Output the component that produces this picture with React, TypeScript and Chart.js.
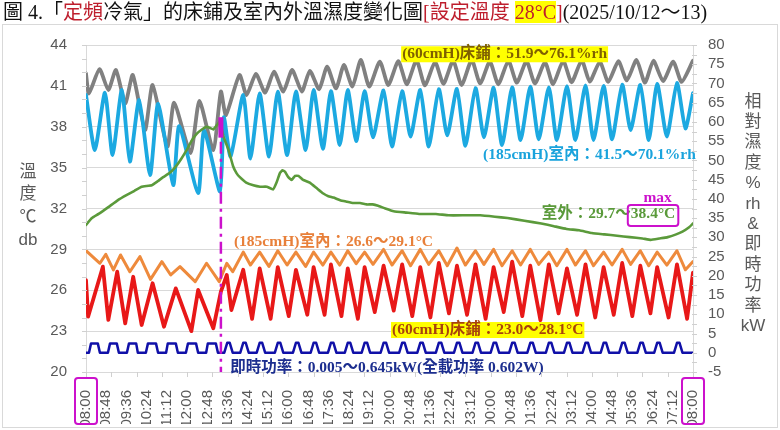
import { useEffect, useRef } from 'react';
import { Chart, registerables } from 'chart.js';

Chart.register(...registerables);

// ---------- tick labels (every 48 minutes from 08:00) ----------
const timeLabels = [
  '08:00', '08:48', '09:36', '10:24', '11:12', '12:00', '12:48', '13:36', '14:24', '15:12',
  '16:00', '16:48', '17:36', '18:24', '19:12', '20:00', '20:48', '21:36', '22:24', '23:12',
  '00:00', '00:48', '01:36', '02:24', '03:12', '04:00', '04:48', '05:36', '06:24', '07:12', '08:00',
];

// ---------- series: [minutes since 08:00, value] ----------
// (60cmH) bed relative humidity, %rh (right axis)
const bedRH: [number, number][] = [
  [0, 72.6], [7, 67.4], [32, 73.7], [53, 68.3], [71, 73.5], [93, 64.8], [111, 72.2], [140, 57.9],
  [158, 69.6], [193, 53.6], [209, 65.0], [248, 51.9], [269, 65.5], [302, 52.7], [320, 67.9], [332, 61.8],
  [364, 72.2], [381, 67.0], [403, 72.5], [425, 67.6], [446, 73.1], [468, 67.9], [489, 73.5], [512, 67.9],
  [531, 73.3], [553, 68.5], [572, 74.4], [593, 68.7], [612, 74.8], [632, 69.2], [652, 76.1], [672, 69.2],
  [697, 75.7], [717, 69.6], [741, 75.8], [761, 69.8], [784, 76.0], [804, 69.5], [828, 75.6], [848, 69.9],
  [871, 75.9], [891, 69.6], [915, 76.1], [935, 70.0], [958, 75.7], [978, 69.8], [1002, 75.9], [1022, 70.2],
  [1045, 75.8], [1065, 70.0], [1089, 75.5], [1108, 69.8], [1132, 75.9], [1152, 70.3], [1176, 76.0], [1195, 70.5],
  [1219, 75.6], [1239, 70.4], [1263, 75.8], [1283, 70.8], [1306, 76.1], [1326, 70.2], [1346, 75.9], [1369, 70.6],
  [1393, 75.7], [1413, 70.4], [1440, 75.9],
];

// (185cmH) indoor relative humidity, %rh (right axis)
const roomRH: [number, number][] = [
  [0, 67.0], [21, 52.7], [45, 67.6], [63, 51.4], [85, 68.3], [104, 49.7], [126, 65.7], [152, 46.2],
  [171, 64.7], [207, 43.6], [221, 58.9], [266, 41.5], [280, 57.9], [318, 41.9], [327, 61.2], [343, 51.0],
  [373, 67.0], [390, 50.5], [412, 67.4], [434, 51.0], [455, 67.9], [477, 51.4], [498, 67.9], [521, 52.7],
  [540, 68.3], [562, 53.0], [581, 68.0], [602, 54.0], [621, 68.3], [641, 55.0], [661, 68.0], [681, 56.0],
  [706, 68.2], [726, 53.6], [750, 68.0], [770, 56.2], [793, 68.3], [813, 53.6], [837, 68.5], [857, 56.5],
  [880, 68.6], [900, 53.8], [924, 68.8], [944, 56.0], [967, 68.9], [987, 54.0], [1011, 69.0], [1031, 55.3],
  [1054, 69.2], [1074, 55.5], [1098, 69.0], [1117, 55.3], [1141, 69.3], [1161, 55.3], [1185, 69.5], [1204, 55.3],
  [1228, 69.4], [1248, 55.5], [1272, 69.7], [1292, 57.9], [1315, 69.6], [1335, 55.3], [1355, 69.9], [1378, 56.2],
  [1402, 70.1], [1422, 58.3], [1440, 67.5],
];

// outdoor temperature, °C (left axis)
const outdoorT: [number, number][] = [
  [0, 30.8], [14, 31.3], [30, 31.6], [53, 32.1], [75, 32.6], [97, 33.0], [115, 33.3], [132, 33.6],
  [156, 33.7], [170, 34.0], [183, 34.3], [198, 34.6], [211, 35.0], [225, 35.6], [239, 36.3], [251, 37.0],
  [263, 37.5], [275, 37.8], [286, 38.0], [295, 37.9], [302, 37.8], [310, 38.1], [318, 38.4], [326, 37.3],
  [338, 36.3], [349, 35.1], [357, 34.6], [365, 34.3], [380, 33.9], [397, 33.7], [413, 33.6], [429, 33.6],
  [444, 33.4], [452, 33.9], [460, 34.6], [466, 34.8], [472, 34.7], [480, 34.3], [488, 34.1], [496, 34.4],
  [504, 34.4], [515, 34.1], [531, 33.9], [547, 33.5], [563, 33.1], [575, 32.9], [587, 32.8], [603, 32.6],
  [618, 32.5], [634, 32.4], [650, 32.4], [666, 32.3], [680, 32.3], [693, 32.2], [710, 32.0], [730, 31.8],
  [760, 31.7], [790, 31.6], [830, 31.6], [860, 31.5], [900, 31.5], [935, 31.5], [970, 31.4], [1000, 31.3],
  [1040, 31.1], [1080, 30.9], [1110, 30.7], [1140, 30.5], [1170, 30.4], [1200, 30.2], [1230, 30.1], [1260, 30.0],
  [1290, 29.9], [1320, 29.8], [1340, 29.7], [1360, 29.8], [1380, 29.9], [1400, 30.1], [1415, 30.3], [1430, 30.6],
  [1440, 30.9],
];

// (185cmH) indoor temperature, °C (left axis)
const roomT: [number, number][] = [
  [0, 28.9], [33, 27.98], [47, 28.64], [65, 27.49], [82, 28.59], [104, 27.36], [128, 28.47], [153, 26.8],
  [180, 28.1], [201, 27.12], [223, 27.73], [259, 26.63], [286, 27.98], [316, 26.63], [334, 27.98], [348, 27.36],
  [373, 28.8], [390, 27.85], [412, 28.8], [434, 27.75], [455, 28.9], [477, 27.85], [498, 28.8], [521, 27.75],
  [540, 28.8], [562, 27.85], [581, 28.8], [602, 27.85], [621, 28.9], [641, 27.95], [661, 28.8], [681, 27.9],
  [706, 29.0], [726, 27.85], [750, 28.9], [770, 27.8], [793, 29.0], [813, 27.9], [837, 28.9], [857, 27.8],
  [880, 29.1], [900, 27.85], [924, 28.9], [944, 27.9], [967, 29.0], [987, 27.8], [1011, 28.9], [1031, 27.85],
  [1054, 29.0], [1074, 27.9], [1098, 28.8], [1117, 27.8], [1141, 29.0], [1161, 27.85], [1185, 28.9], [1204, 27.8],
  [1228, 28.8], [1248, 27.85], [1272, 29.0], [1292, 27.9], [1315, 28.9], [1335, 27.8], [1355, 28.8], [1378, 27.85],
  [1402, 28.9], [1422, 27.5], [1440, 28.1],
];

// (60cmH) bed temperature, °C (left axis)
const bedT: [number, number][] = [
  [0, 26.75], [5, 24.06], [40, 27.73], [53, 23.82], [74, 27.36], [93, 23.57], [112, 26.99], [132, 23.45],
  [158, 26.51], [185, 23.32], [213, 26.14], [250, 23.0], [266, 26.02], [302, 23.21], [320, 25.9], [334, 27.12],
  [345, 24.55], [373, 27.5], [394, 23.9], [412, 27.6], [438, 23.9], [455, 27.7], [481, 24.1], [498, 27.5],
  [525, 24.2], [540, 27.7], [566, 24.2], [581, 27.9], [606, 24.1], [621, 27.6], [645, 23.9], [661, 27.7],
  [685, 24.4], [706, 27.8], [730, 24.5], [750, 27.9], [774, 24.1], [793, 27.7], [817, 24.0], [837, 28.0],
  [861, 24.3], [880, 27.8], [904, 24.2], [924, 27.9], [948, 23.9], [967, 27.7], [991, 24.4], [1011, 28.1],
  [1035, 24.1], [1054, 27.8], [1078, 23.8], [1098, 27.9], [1121, 24.3], [1141, 27.6], [1165, 24.2], [1185, 27.9],
  [1208, 24.0], [1228, 27.7], [1252, 24.2], [1272, 28.0], [1296, 24.1], [1315, 27.8], [1339, 24.3], [1355, 27.7],
  [1382, 24.0], [1402, 27.9], [1426, 23.9], [1440, 27.3],
];

// instantaneous power, kW
const powerKW: [number, number][] = [
  [0, 0.005], [7, 0.005], [12, 0.61], [28, 0.61], [33, 0.005], [52, 0.005], [57, 0.61], [73, 0.61],
  [78, 0.005], [97, 0.005], [102, 0.61], [119, 0.61], [123, 0.005], [142, 0.005], [147, 0.61], [166, 0.61],
  [171, 0.005], [190, 0.005], [194, 0.61], [213, 0.61], [218, 0.005], [237, 0.005], [242, 0.61], [261, 0.61],
  [266, 0.005], [285, 0.005], [289, 0.61], [308, 0.61], [313, 0.005],
  [328, 0.005], [335, 0.645], [341, 0.645], [348, 0.005], [366, 0.005], [373, 0.645], [379, 0.645], [386, 0.005],
  [405, 0.005], [412, 0.645], [418, 0.645], [425, 0.005], [448, 0.005], [455, 0.645], [461, 0.645], [468, 0.005],
  [491, 0.005], [498, 0.645], [504, 0.645], [511, 0.005], [533, 0.005], [540, 0.645], [546, 0.645], [553, 0.005],
  [574, 0.005], [581, 0.645], [587, 0.645], [594, 0.005], [614, 0.005], [621, 0.645], [627, 0.645], [634, 0.005],
  [654, 0.005], [661, 0.645], [667, 0.645], [674, 0.005], [699, 0.005], [706, 0.645], [712, 0.645], [719, 0.005],
  [743, 0.005], [750, 0.645], [756, 0.645], [763, 0.005], [786, 0.005], [793, 0.645], [799, 0.645], [806, 0.005],
  [830, 0.005], [837, 0.645], [843, 0.645], [850, 0.005], [873, 0.005], [880, 0.645], [886, 0.645], [893, 0.005],
  [917, 0.005], [924, 0.645], [930, 0.645], [937, 0.005], [960, 0.005], [967, 0.645], [973, 0.645], [980, 0.005],
  [1004, 0.005], [1011, 0.645], [1017, 0.645], [1024, 0.005], [1047, 0.005], [1054, 0.645], [1060, 0.645], [1067, 0.005],
  [1091, 0.005], [1098, 0.645], [1104, 0.645], [1111, 0.005], [1134, 0.005], [1141, 0.645], [1147, 0.645], [1154, 0.005],
  [1178, 0.005], [1185, 0.645], [1191, 0.645], [1198, 0.005], [1221, 0.005], [1228, 0.645], [1234, 0.645], [1241, 0.005],
  [1265, 0.005], [1272, 0.645], [1278, 0.645], [1285, 0.005], [1308, 0.005], [1315, 0.645], [1321, 0.645], [1328, 0.005],
  [1348, 0.005], [1355, 0.645], [1361, 0.645], [1368, 0.005], [1395, 0.005], [1402, 0.645], [1408, 0.645], [1415, 0.005],
  [1440, 0.005],
];

// time of the outdoor maximum (38.4 °C), marked by the magenta line
const outdoorMaxTime = 320;

const SERIF = "'Liberation Serif','Noto Sans CJK TC',serif";
const SANS = "'Liberation Sans','Noto Sans CJK TC',sans-serif";
const MAGENTA = '#CC11CC';

type Note = { text: string; t: number; v: number; color: string; bg?: string; center?: boolean; boxPart?: string };
const notes: Note[] = [
  { text: '(60cmH)床鋪：51.9～76.1%rh', t: 750, v: 43.32, color: '#7F6000', bg: '#FFFF00' },
  { text: '(185cmH)室內：41.5～70.1%rh', t: 942, v: 35.93, color: '#1AA3DC' },
  { text: 'max', t: 1356, v: 32.77, color: MAGENTA, center: true },
  { text: '室外：29.7～38.4°C', t: 1081, v: 31.6, color: '#5A9A3A', boxPart: '38.4°C' },
  { text: '(185cmH)室內：26.6～29.1°C', t: 351, v: 29.54, color: '#E8803A' },
  { text: '(60cmH)床鋪：23.0～28.1°C', t: 726, v: 23.08, color: '#A8420C', bg: '#FFFF00' },
  { text: '即時功率：0.005～0.645kW(全載功率 0.602W)', t: 342, v: 20.29, color: '#1C2E8F' },
];

const leftTitle = ['溫', '度', '℃', 'db'];
const rightTitle = ['相', '對', '濕', '度', '%', 'rh', '&', '即', '時', '功', '率', 'kW'];

const toXY = (s: [number, number][]) => s.map(([x, y]) => ({ x, y }));

const overlay = {
  id: 'overlay',
  afterDatasetsDraw(chart: any) {
    const { ctx, chartArea, scales } = chart;
    const xs = scales.x;
    const yl = scales.yL;
    ctx.save();
    // magenta marker line at the outdoor maximum
    const mx = xs.getPixelForValue(outdoorMaxTime);
    const top = yl.getPixelForValue(38.7);
    const mid = yl.getPixelForValue(37.2);
    ctx.strokeStyle = MAGENTA;
    ctx.lineCap = 'butt';
    ctx.lineWidth = 5;
    ctx.beginPath();
    ctx.moveTo(mx, top);
    ctx.lineTo(mx, mid);
    ctx.stroke();
    ctx.lineWidth = 2.5;
    ctx.setLineDash([12, 5, 3, 5]);
    ctx.beginPath();
    ctx.moveTo(mx, mid + 4);
    ctx.lineTo(mx, chartArea.bottom);
    ctx.stroke();
    ctx.setLineDash([]);

    // notes
    ctx.textBaseline = 'middle';
    for (const n of notes) {
      ctx.font = `bold 15.5px ${SERIF}`;
      const w = ctx.measureText(n.text).width;
      let x = xs.getPixelForValue(n.t);
      const y = yl.getPixelForValue(n.v);
      if (n.center) x -= w / 2;
      if (n.bg) {
        ctx.fillStyle = n.bg;
        ctx.fillRect(x - 1, y - 8, w + 2, 16);
      }
      ctx.fillStyle = n.color;
      ctx.textAlign = 'left';
      ctx.fillText(n.text, x, y);
      if (n.boxPart) {
        const pre = n.text.slice(0, n.text.length - n.boxPart.length);
        const bx = x + ctx.measureText(pre).width - 3;
        const bw = ctx.measureText(n.boxPart).width + 6;
        ctx.strokeStyle = MAGENTA;
        ctx.lineWidth = 2;
        ctx.beginPath();
        ctx.roundRect(bx, y - 9, bw, 21, 3);
        ctx.stroke();
      }
    }
    ctx.restore();
  },
  afterDraw(chart: any) {
    const { ctx, chartArea, scales } = chart;
    const xs = scales.x;
    const yl = scales.yL;
    const yr = scales.yR;
    ctx.save();
    // minor tick marks
    ctx.strokeStyle = '#D0D0D0';
    ctx.lineWidth = 1;
    ctx.beginPath();
    for (let v = 20; v <= 44; v += 1) {
      const y = Math.round(yl.getPixelForValue(v)) + 0.5;
      ctx.moveTo(chartArea.left - 4, y);
      ctx.lineTo(chartArea.left + 1, y);
    }
    for (let v = -5; v <= 80; v += 2.5) {
      const y = Math.round(yr.getPixelForValue(v)) + 0.5;
      ctx.moveTo(chartArea.right - 1, y);
      ctx.lineTo(chartArea.right + 4, y);
    }
    for (let t = 0; t <= 1440; t += 60) {
      const x = Math.round(xs.getPixelForValue(t)) + 0.5;
      ctx.moveTo(x, chartArea.bottom);
      ctx.lineTo(x, chartArea.bottom + 5);
    }
    ctx.stroke();

    // axis titles
    ctx.fillStyle = '#595959';
    ctx.textAlign = 'center';
    ctx.textBaseline = 'middle';
    ctx.font = `17px ${SANS}`;
    leftTitle.forEach((s, i) => ctx.fillText(s, chartArea.left - 58, 172 + i * 22.7));
    rightTitle.forEach((s, i) => ctx.fillText(s, chartArea.right + 60, 102 + i * 20.4));

    // boxes around the first and last time labels
    ctx.strokeStyle = MAGENTA;
    ctx.lineWidth = 2;
    for (const t of [0, 1440]) {
      const x = xs.getPixelForValue(t);
      ctx.beginPath();
      ctx.roundRect(x - 11, chartArea.bottom + 6, 22, 46, 3);
      ctx.stroke();
    }
    ctx.restore();
  },
};

export default function App() {
  const ref = useRef<HTMLCanvasElement>(null);

  useEffect(() => {
    const canvas = ref.current;
    if (!canvas) return;
    const line = (label: string, data: [number, number][], color: string, width: number, axis: string, order: number, tension = 0) => ({
      label,
      data: toXY(data),
      borderColor: color,
      backgroundColor: color,
      borderWidth: width,
      yAxisID: axis,
      order,
      tension,
      pointRadius: 0,
      fill: false,
    });
    const chart = new Chart(canvas, {
      type: 'line',
      data: {
        datasets: [
          line('(60cmH)床鋪 %rh', bedRH, '#808080', 3.8, 'yR', 6, 0.2),
          line('(185cmH)室內 %rh', roomRH, '#1CA9E1', 3.8, 'yR', 5, 0.2),
          line('室外 °C', outdoorT, '#5B9A3B', 2.6, 'yL', 4, 0.1),
          line('(185cmH)室內 °C', roomT, '#EE8A3C', 3, 'yL', 3),
          line('(60cmH)床鋪 °C', bedT, '#E81818', 3.8, 'yL', 2),
          line('即時功率 kW', powerKW, '#1010A8', 2.5, 'yP', 1),
        ] as any,
      },
      options: {
        animation: false,
        responsive: false,
        devicePixelRatio: 1,
        parsing: false as any,
        layout: { padding: { top: 45, bottom: 6, left: 0, right: 0 } },
        plugins: { legend: { display: false }, tooltip: { enabled: false }, title: { display: false } },
        elements: { point: { radius: 0 }, line: { borderJoinStyle: 'round', borderCapStyle: 'round' } },
        scales: {
          x: {
            type: 'linear',
            min: 0,
            max: 1440,
            grid: { display: false },
            border: { display: false },
            ticks: {
              stepSize: 48,
              autoSkip: false,
              maxRotation: 90,
              minRotation: 90,
              padding: 10,
              color: '#595959',
              font: { family: 'Arial, Liberation Sans, sans-serif', size: 15 },
              callback: (v: any) => timeLabels[Math.round(Number(v) / 48)] ?? '',
            },
            afterFit: (s: any) => { s.height = 52; },
          },
          yL: {
            type: 'linear',
            position: 'left',
            min: 20,
            max: 44,
            ticks: { stepSize: 3, padding: 19, autoSkip: false, color: '#595959', font: { family: SANS, size: 15 } },
            grid: { color: '#D9D9D9', drawTicks: false },
            border: { display: true, color: '#D9D9D9' },
            afterFit: (s: any) => { s.width = 86; },
          },
          yR: {
            type: 'linear',
            position: 'right',
            min: -5,
            max: 80,
            ticks: { stepSize: 5, padding: 15, autoSkip: false, color: '#595959', font: { family: SANS, size: 15 } },
            grid: { drawOnChartArea: false, drawTicks: false },
            border: { display: true, color: '#D9D9D9' },
            afterFit: (s: any) => { s.width = 87; },
          },
          yP: { type: 'linear', position: 'right', display: false, min: -1.25, max: 20 },
        },
      } as any,
      plugins: [overlay],
    });
    return () => chart.destroy();
  }, []);

  const red = '#BE1E2D';
  return (
    <div style={{ position: 'relative', width: 780, height: 430, background: '#fff', overflow: 'hidden' }}>
      <style>{'html,body{margin:0;padding:0;background:#fff}'}</style>
      <div
        style={{
          position: 'absolute', left: 2, top: 24, width: 776, height: 404,
          border: '1px solid #D9D9D9', boxSizing: 'border-box',
        }}
      />
      <canvas ref={ref} width={780} height={430} style={{ position: 'absolute', left: 0, top: 0 }} />
      <div
        style={{
          position: 'absolute', left: 3, top: 0, fontFamily: SERIF, fontSize: 20, lineHeight: '24px',
          whiteSpace: 'nowrap', color: '#111',
        }}
      >
        圖 4.「<span style={{ color: red }}>定頻</span>冷氣」的床鋪及室內外溫濕度變化圖
        <span style={{ color: red }}>[設定溫度 <span style={{ background: '#FFFF00' }}>28°C</span>]</span>
        (2025/10/12～13)
      </div>
    </div>
  );
}
